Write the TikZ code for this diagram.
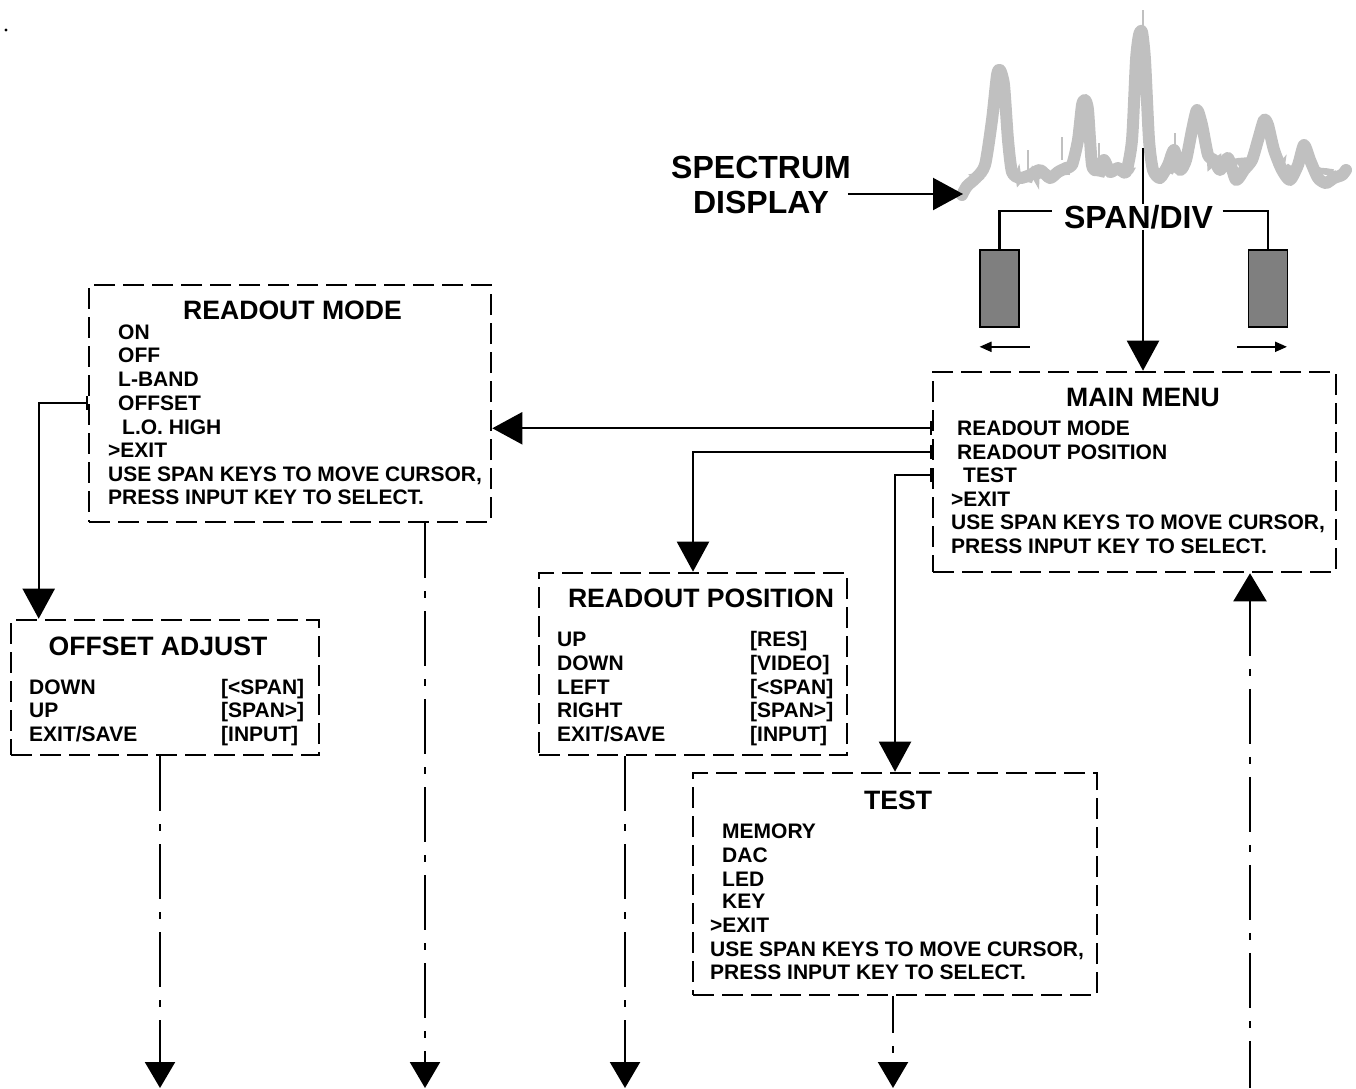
\documentclass[tikz,border=0pt]{standalone}
\usepackage{fontspec}
\setmainfont{Liberation Sans}
\usetikzlibrary{arrows.meta,decorations.pathmorphing}
\definecolor{specgray}{HTML}{C0C0C0}
\definecolor{keygray}{HTML}{7F7F7F}
\newcommand{\bodyfnt}{\fontsize{21}{24}\selectfont\bfseries}
\newcommand{\titlefnt}{\fontsize{26.6}{30}\selectfont\bfseries}
\newcommand{\bigfnt}{\fontsize{32}{34.5}\selectfont\bfseries}
\begin{document}
\begin{tikzpicture}[x=1pt,y=-1pt,
  menubox/.style={draw,line width=2.6pt,dash pattern=on 21pt off 8pt,minimum width=#1,inner sep=0pt},
  ttl/.style={font=\titlefnt,inner sep=0pt},
  ln/.style={anchor=base west,font=\bodyfnt,inner sep=0pt},
  conn/.style={line width=2.2pt},
  dd/.style={line width=2.2pt,dash pattern=on 55pt off 13pt on 7pt off 13pt},
  bigtip/.style={-{Triangle[length=30pt,width=32pt]}},
  bottip/.style={-{Triangle[length=26pt,width=30pt]}},
  bartip/.style={{Bar[width=14pt,line width=2pt]}-{Triangle[length=30pt,width=32pt]}},
  keybox/.style={draw,line width=1.6pt,fill=keygray,minimum width=39pt,minimum height=77pt,inner sep=0pt},
  smalltip/.style={line width=2pt,-{Triangle[length=12pt,width=10pt]}}
]
\useasboundingbox (0,0) rectangle (1356,1088);
\fill (6,30) circle (1.6);

% spectrum trace
\draw[specgray,line width=12pt,line join=round,line cap=round]
 plot[smooth,tension=0.4] coordinates {(962,195) (967,186) (976,178) (985,165) (992,120) (997,75) (1000,70) (1004,85) (1008,140) (1012,172) (1020,178) (1030,175) (1040,170) (1050,178) (1058,172) (1066,168) (1072,165) (1078,140) (1082,105) (1085,100) (1088,110) (1092,165) (1098,170) (1104,160) (1110,172) (1118,168) (1126,172) (1132,140) (1136,60) (1139,35) (1142,32) (1145,60) (1149,140) (1153,170) (1160,178) (1168,165) (1174,150) (1180,170) (1186,160) (1192,130) (1197,110) (1202,125) (1208,155) (1214,160) (1220,170) (1228,158) (1236,180) (1244,170) (1252,160) (1258,140) (1264,120) (1268,125) (1274,150) (1282,170) (1290,180) (1298,165) (1304,145) (1310,160) (1318,178) (1326,183) (1334,178) (1342,175) (1346,170)};
\draw[specgray,line width=6pt,decorate,decoration={random steps,segment length=3pt,amplitude=3.5pt}]
 (965,190) -- (985,170) (1012,178) -- (1070,172) (1092,172) -- (1130,172) (1153,176) -- (1190,162) (1210,162) -- (1256,162) (1276,164) -- (1300,172) (1312,172) -- (1346,176);
\draw[specgray,line width=1.5pt] (1143,10) -- (1143,40) (1062,137) -- (1062,160) (1175,133) -- (1175,160) (1296,155) -- (1296,175) (1099,143) -- (1099,165) (1028,150) -- (1028,170);

% spectrum display label
\node[font=\bigfnt,align=center,inner sep=0pt] (sd) at (761,185) {SPECTRUM\\DISPLAY};
\coordinate (specL) at (963,194);
\draw[conn,bigtip] (sd.east |- specL) ++(-3,0) -- (specL);

% main menu box
\node[menubox=403pt,minimum height=200pt] (mm) at (1134.5,472) {};
\coordinate (spec) at (1143,148);
\draw[conn,bigtip] (spec) -- (spec |- mm.north);
\node[font=\bigfnt,fill=white,inner sep=1.5pt] (sdv) at (1138.5,217) {SPAN/DIV};

% span keys
\node[keybox] (k1) at (999.5,288.5) {};
\node[keybox] (k2) at (1268,288.5) {};
\draw[conn] (k1.north) |- ([xshift=-10pt,yshift=6pt]sdv.west);
\draw[conn] ([xshift=8pt,yshift=6pt]sdv.east) -| (k2.north);
\draw[smalltip] ([xshift=30pt,yshift=-19pt]k1.south) -- ++(-50,0);
\draw[smalltip] ([xshift=-31pt,yshift=-19pt]k2.south) -- ++(50,0);

\node[ttl] (mmt) at (1143,397) {MAIN MENU};
\foreach \x/\y/\t [count=\i] in {957/428/{READOUT MODE},957/452/{READOUT POSITION},963/475/{TEST},951/499/{>EXIT},951/522/{USE SPAN KEYS TO MOVE CURSOR,},951/546/{PRESS INPUT KEY TO SELECT.}}
  \node[ln] (mm\i) at (\x,\y+7.5) {\t};

% readout mode box
\node[menubox=402pt,minimum height=237pt] (rm) at (290,403.5) {};
\node[ttl] (rmt) at (292.5,310) {READOUT MODE};
\foreach \x/\y/\t [count=\i] in {118/332/{ON},118/355/{OFF},118/379/{L-BAND},118/403/{OFFSET},122/427/{L.O. HIGH},108/450/{>EXIT},108/474/{USE SPAN KEYS TO MOVE CURSOR,},108/497/{PRESS INPUT KEY TO SELECT.}}
  \node[ln] (rm\i) at (\x,\y+7.5) {\t};

% offset adjust box
\node[menubox=308pt,minimum height=135pt] (oa) at (165,687.5) {};
\node[ttl] (oat) at (158,646) {OFFSET ADJUST};
\foreach \x/\y/\t [count=\i] in {29/687/{DOWN},29/710/{UP},29/734/{EXIT/SAVE},221/687/{[<SPAN]},221/710/{[SPAN>]},221/734/{[INPUT]}}
  \node[ln] (oa\i) at (\x,\y+7.5) {\t};

% readout position box
\node[menubox=308pt,minimum height=182pt] (rp) at (693,664) {};
\node[ttl] (rpt) at (701,598) {READOUT POSITION};
\foreach \x/\y/\t [count=\i] in {557/639/{UP},557/663/{DOWN},557/687/{LEFT},557/710/{RIGHT},557/734/{EXIT/SAVE},750/639/{[RES]},750/663/{[VIDEO]},750/687/{[<SPAN]},750/710/{[SPAN>]},750/734/{[INPUT]}}
  \node[ln] (rp\i) at (\x,\y+7.5) {\t};

% test box
\node[menubox=404pt,minimum height=222pt] (tb) at (895,884) {};
\node[ttl] (tbt) at (898,800) {TEST};
\foreach \x/\y/\t [count=\i] in {722/831/{MEMORY},722/855/{DAC},722/879/{LED},722/901/{KEY},710/925/{>EXIT},710/949/{USE SPAN KEYS TO MOVE CURSOR,},710/972/{PRESS INPUT KEY TO SELECT.}}
  \node[ln] (tb\i) at (\x,\y+7.5) {\t};

% connectors from main menu
\draw[conn,bartip] (mm.west |- mm1) -- (rm.east |- mm1);
\draw[conn,bartip] (mm.west |- mm2) -| (rp.north);
\draw[conn,bartip] (mm.west |- mm3) -| (tb.north);
% offset connector
\draw[conn,bartip] (rm.west |- rm4) -| ([xshift=29pt]oa.north west);

% dash-dot exits
\coordinate (b1) at (160,1088);
\coordinate (b2) at (425,1088);
\coordinate (b3) at (625,1088);
\coordinate (b4) at (893,1088);
\coordinate (b5) at (1250,1088);
\draw[dd,bottip] (oa.south -| b1) -- (b1);
\draw[dd,bottip] (rm.south -| b2) -- (b2);
\draw[dd,bottip] (rp.south -| b3) -- (b3);
\draw[dd,dash phase=18pt,bottip] (tb.south -| b4) -- (b4);
\draw[dd,{Triangle[length=28pt,width=33pt]}-] (mm.south -| b5) -- (b5);
\end{tikzpicture}
\end{document}
